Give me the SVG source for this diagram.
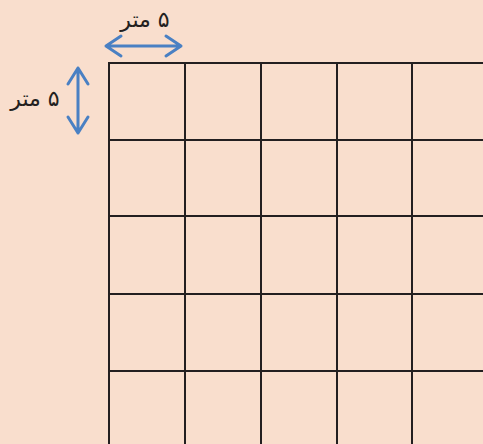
<svg xmlns="http://www.w3.org/2000/svg" width="483" height="444" viewBox="0 0 483 444">
<style>
.grid{stroke:#231F20;stroke-width:2;fill:none;stroke-linecap:square}
.arr{stroke:#4A80C3;stroke-width:3;fill:none;stroke-linecap:round;stroke-linejoin:round}
.lbl{font-family:"DejaVu Sans",sans-serif;font-size:22px;fill:#231F20;text-anchor:middle}
</style>
<rect width="483" height="444" fill="#F9DECD"/>
<g id="grid" class="grid">
<path d="M109 63H484M109 140H484M109 216H484M109 294H484M109 371H484"/>
<path d="M109 63V445M185 63V445M261 63V445M337 63V445M412 63V445"/>
</g>
<g id="connectors" class="arr">
<path d="M106 46H181M121 36L106 46L121 56M166 36L181 46L166 56"/>
<path d="M78 68V133M68 84L78 68L88 84M68 117L78 133L88 117"/>
</g>
<g id="label-top"><text class="lbl" x="145" y="27" direction="rtl">۵ متر</text></g>
<g id="label-left"><text class="lbl" x="35" y="106" direction="rtl">۵ متر</text></g>
</svg>
